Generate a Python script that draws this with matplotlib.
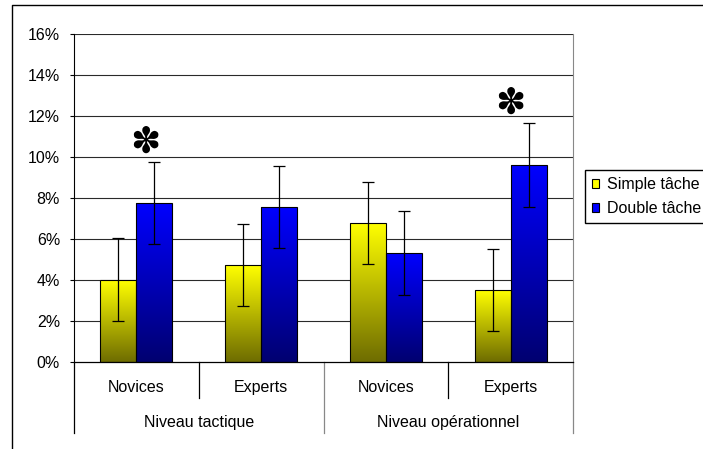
import numpy as np
import matplotlib
matplotlib.use("Agg")
import matplotlib.pyplot as plt
from matplotlib.patches import Rectangle
from matplotlib.lines import Line2D
from matplotlib.colors import LinearSegmentedColormap

plt.rcParams['font.family'] = ['Liberation Sans', 'DejaVu Sans']

# data
groups = ['Novices', 'Experts', 'Novices', 'Experts']
levels = ['Niveau tactique', 'Niveau opérationnel']
simple = [4.0, 4.7, 6.75, 3.5]
double = [7.75, 7.55, 5.3, 9.6]
simple_err = [2.03, 2.0, 2.0, 2.0]
double_err = [2.0, 2.0, 2.03, 2.03]
signif = [True, False, False, True]
yticks = [0, 2, 4, 6, 8, 10, 12, 14, 16]

fsz = 11.5
W, H = 703, 449
fig = plt.figure(figsize=(W / 100, H / 100), dpi=100)
ax = fig.add_axes([74 / W, 1 - 361.7 / H, (573 - 74) / W, 328 / H])

x = np.arange(len(groups))
bw = 0.288
b1 = ax.bar(x - bw / 2, simple, bw, edgecolor='black', linewidth=0.8, facecolor='none', zorder=3)
b2 = ax.bar(x + bw / 2, double, bw, edgecolor='black', linewidth=0.8, facecolor='none', zorder=3)

cm_y = LinearSegmentedColormap.from_list('y', ['#6e6c00', '#ffff00'])
cm_b = LinearSegmentedColormap.from_list('b', ['#000070', '#0000ff'])
grad = np.linspace(0, 1, 256).reshape(-1, 1)
for bars, cm in [(b1, cm_y), (b2, cm_b)]:
    for r in bars:
        x0, y0, w, h = r.get_x(), r.get_y(), r.get_width(), r.get_height()
        im = ax.imshow(grad, cmap=cm, origin='lower', aspect='auto',
                       extent=[x0, x0 + w, y0, y0 + h], zorder=2)
        im.set_clip_path(r)

ax.errorbar(x - bw / 2, simple, yerr=simple_err, fmt='none', ecolor='black',
            elinewidth=0.9, capsize=4, capthick=0.9, zorder=4)
ax.errorbar(x + bw / 2, double, yerr=double_err, fmt='none', ecolor='black',
            elinewidth=0.9, capsize=4, capthick=0.9, zorder=4)

# significance stars
for i, s in enumerate(signif):
    if s:
        off = 0.07 if i == 0 else 0.0
        ax.text(i + off, double[i] + double_err[i] + 0.95, '✽', fontsize=26,
                family='DejaVu Sans', ha='center', va='center', zorder=5)

ax.set_xlim(-0.5, len(groups) - 0.5)
ax.set_ylim(0, 16)
ax.set_yticks(yticks)
ax.set_yticklabels([f'{t}%' for t in yticks], fontsize=fsz)
ax.tick_params(axis='y', direction='out', length=3, width=0.8, pad=7)
ax.set_xticks([])
for yy in yticks[1:]:
    ax.axhline(yy, color='#2a2a2a', lw=0.8, zorder=1)

for s in ['top', 'bottom']:
    ax.spines[s].set_visible(False)
ax.spines['right'].set_color('#888888')
ax.spines['left'].set_linewidth(0.8)
ax.axhline(0, color='black', lw=0.9, zorder=6, clip_on=False)

# two-level category axis
tr = ax.get_xaxis_transform()
for i in range(len(groups) + 1):
    yb = -0.217 if i % 2 == 0 else -0.111
    col = '#888888' if i in (2, 4) else 'black'
    ax.plot([i - 0.5, i - 0.5], [0, yb], color=col, lw=0.9, transform=tr, clip_on=False)
for i, g in enumerate(groups):
    ax.text(i, -0.078, g, transform=tr, ha='center', va='center', fontsize=fsz)
for j, lv in enumerate(levels):
    ax.text(2 * j + 0.5, -0.184, lv, transform=tr, ha='center', va='center', fontsize=fsz)

# legend
handles = [Rectangle((0, 0), 1, 1, facecolor='#ffff00', edgecolor='black', lw=0.8),
           Rectangle((0, 0), 1, 1, facecolor='#0000ff', edgecolor='black', lw=0.8)]
fig.legend(handles, ['Simple tâche', 'Double tâche'], loc='upper left',
           bbox_to_anchor=(585 / W, 1 - 170 / H), borderaxespad=0, fontsize=fsz,
           handlelength=0.45, handleheight=0.45, handletextpad=0.5, borderpad=0.45,
           labelspacing=0.55, fancybox=False, framealpha=1, edgecolor='black')

# outer chart border
fig.add_artist(Line2D([12 / W, 12 / W, 1.0], [0, 1 - 5 / H, 1 - 5 / H],
                      color='black', lw=1.0, transform=fig.transFigure))

fig.savefig('out.png', dpi=100)
